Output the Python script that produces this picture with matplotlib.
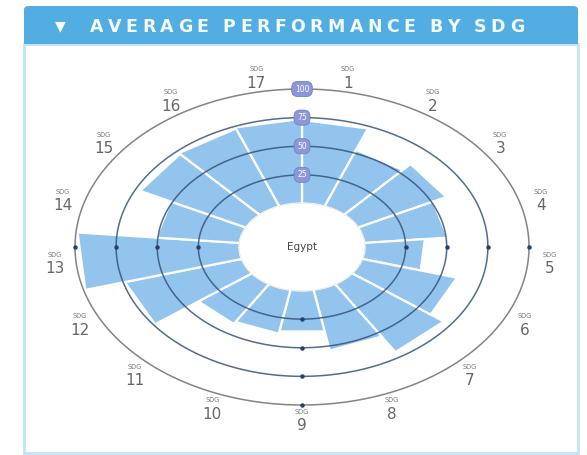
import numpy as np
import matplotlib
matplotlib.use('Agg')
import matplotlib.pyplot as plt
from matplotlib.patches import FancyBboxPatch, Rectangle

# values
sdgs = list(range(1, 18))
scores = [73, 53, 60, 51, 37, 60, 70, 54, 37, 39, 41, 74, 99, 51, 72, 73, 74]
rings = [25, 50, 75, 100]
country = 'Egypt'
title = 'AVERAGE PERFORMANCE BY SDG'

W, H = 587, 455
fig = plt.figure(figsize=(W / 100, H / 100), dpi=100)


def fx(px):
    return px / W


def fy(py):
    return 1 - py / H


# panel + header
fig.patches.append(Rectangle((fx(24), fy(453)), fx(578) - fx(24), fy(44) - fy(453),
                             transform=fig.transFigure, fc='white', ec='#c2e4f5', lw=2,
                             zorder=-5))
fig.patches.append(FancyBboxPatch((fx(24), fy(44)), fx(578) - fx(24), fy(6) - fy(44),
                                  boxstyle='round,pad=0,rounding_size=0.008',
                                  transform=fig.transFigure, fc='#52aee2', ec='none',
                                  zorder=-4))
fig.patches.append(Rectangle((fx(24), fy(44)), fx(578) - fx(24), fy(25) - fy(44),
                             transform=fig.transFigure, fc='#52aee2', ec='none', zorder=-4))

fig.text(fx(60), fy(26), '\u25bc', ha='center', va='center', fontsize=10, color='white')

# title with letter spacing
renderer = fig.canvas.get_renderer()
fs = 12.5
texts, widths = [], []
for ch in title:
    t = fig.text(0, fy(31.5), ch if ch != ' ' else '', fontsize=fs, color='#f4fbff',
                 fontweight='semibold', ha='left', va='baseline')
    texts.append(t)
    if ch == ' ':
        widths.append(0.3 * fs * 100 / 72)
    else:
        widths.append(t.get_window_extent(renderer).width)
x0, x1 = 90, 524
gap = (x1 - x0 - sum(widths)) / (len(title) - 1)
x = x0
for t, w in zip(texts, widths):
    t.set_x(fx(x))
    x += w + gap

# polar chart
ax = fig.add_axes([fx(75), fy(405), fx(529) - fx(75), fy(89) - fy(405)], projection='polar')
ax.set_aspect('auto')
ax.set_theta_zero_location('N')
ax.set_theta_direction(-1)
ax.set_ylim(0, 100)
ax.set_rorigin(-38)
ax.axis('off')

n = len(sdgs)
step = 2 * np.pi / n
theta = np.arange(n) * step + step / 2

# bars: straight outer edge, curved inner edge
for i, v in enumerate(scores):
    a0, a1 = theta[i] - step / 2, theta[i] + step / 2
    inner = np.linspace(a1, a0, 20)
    ts = np.concatenate([[a0, a1], inner])
    rs = np.concatenate([[v, v], np.zeros_like(inner)])
    ax.fill(ts, rs, color='#93c4ee', ec='white', lw=1.6, zorder=2, clip_on=False)

tt = np.linspace(0, 2 * np.pi, 400)
ax.plot(tt, np.zeros_like(tt), color='#eadfcf', lw=0.8, zorder=3)
for r in rings:
    col = '#6e6e6e' if r == 100 else '#34527c'
    ax.plot(tt, np.full_like(tt, r), color=col, lw=1.1, alpha=0.85, zorder=3, clip_on=False)
    ax.plot(np.deg2rad([90, 180, 270]), [r] * 3, 'o', ms=2.2, color='#2a3f66',
            zorder=4, clip_on=False)
    ax.text(0, r, str(r), ha='center', va='center', fontsize=5.5, color='white', zorder=6,
            bbox=dict(boxstyle='round,pad=0.4,rounding_size=0.8', fc='#8b97d8',
                      ec='#7480c8', lw=0.6), clip_on=False)

for i, s in enumerate(sdgs):
    ax.annotate('SDG', (theta[i], 113), xytext=(0, 8), textcoords='offset pixels',
                ha='center', va='center', fontsize=4.8, color='#777777',
                annotation_clip=False)
    ax.annotate(str(s), (theta[i], 113), xytext=(0, -6), textcoords='offset pixels',
                ha='center', va='center', fontsize=11, color='#666666',
                annotation_clip=False)

fig.text(fx(302), fy(247), country, ha='center', va='center', fontsize=7.5, color='#444444')

fig.savefig('out.png', dpi=100)
